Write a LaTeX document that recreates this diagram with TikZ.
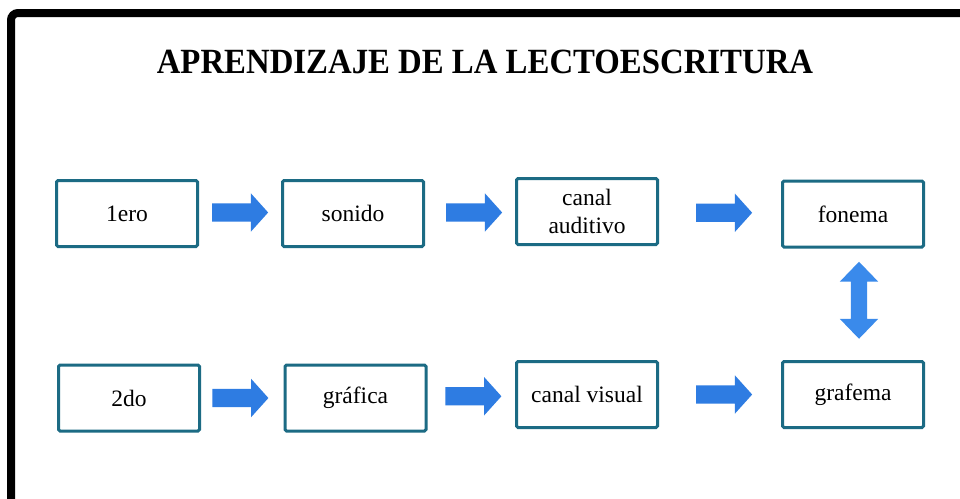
\documentclass[tikz,border=0pt]{standalone}
\usepackage{fontspec}
\setmainfont{Liberation Serif}
\usetikzlibrary{shapes.arrows,calc}
\definecolor{boxline}{RGB}{28,107,132}
\definecolor{arrowblue}{RGB}{46,124,226}
\definecolor{arrowlight}{RGB}{58,138,235}
\tikzset{
  stepbox/.style={draw=boxline, line width=3pt, rounded corners=1.5pt, fill=white,
    minimum width=141pt, minimum height=66pt, inner sep=0pt, align=center,
    font=\fontsize{23.5}{28}\selectfont},
  rarrow/.style={single arrow, fill=arrowblue, draw=none, inner sep=0pt,
    text height=9pt, text depth=9pt, text width=0pt,
    minimum height=56pt, single arrow head extend=10pt,
    single arrow tip angle=96},
  udarrow/.style={double arrow, fill=arrowlight, draw=none, inner sep=0pt,
    text height=8pt, text depth=8pt, text width=0pt, rotate=90,
    minimum height=77pt, double arrow head extend=11pt, double arrow tip angle=88},
}
\begin{document}
\begin{tikzpicture}[x=1pt,y=-1pt]
\useasboundingbox (0,0) rectangle (960,498);
\fill[white] (0,0) rectangle (960,498);
% frame
\draw[line width=8pt, rounded corners=7pt] (11,506) -- (11,13) -- (968,13);
% title
\node[font=\fontsize{32.8}{36}\selectfont\bfseries, yscale=1.08] (title) at (485,62) {APRENDIZAJE DE LA LECTOESCRITURA};
% boxes
\node[stepbox] (a1) at (127,213.5) {1ero};
\node[stepbox] (a2) at (353,213.5) {sonido};
\node[stepbox] (a3) at (587,211.5) {canal\\auditivo};
\node[stepbox] (a4) at (853,214) {fonema};
\node[stepbox] (b1) at (129,398) {2do};
\node[stepbox] (b2) at (355.5,398) {gráfica};
\node[stepbox] (b3) at (587,394.5) {canal visual};
\node[stepbox] (b4) at (853,394.5) {grafema};
% arrows
\node[rarrow] (r1) at ($(a1.east)!0.5!(a2.west)+(-4,-1)$) {};
\node[rarrow] (r2) at ($(a2.east)!0.5!(a3.west)+(0,0)$) {};
\node[rarrow] (r3) at ($(a3.east)!0.5!(a4.west)+(0,0)$) {};
\node[rarrow] (s1) at ($(b1.east)!0.5!(b2.west)+(-6,0)$) {};
\node[rarrow] (s2) at ($(b2.east)!0.5!(b3.west)+(-2,0)$) {};
\node[rarrow] (s3) at ($(b3.east)!0.5!(b4.west)+(0,0)$) {};
\node[udarrow] (ud) at ($(a4.south)!0.5!(b4.north)+(6,-4)$) {};
\end{tikzpicture}
\end{document}
